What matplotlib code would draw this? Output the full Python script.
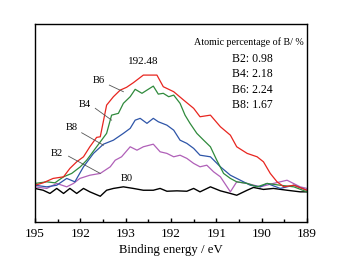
import matplotlib
matplotlib.use("Agg")
import matplotlib.pyplot as plt
from matplotlib.ticker import FixedLocator, MultipleLocator

plt.rcParams['font.family'] = ['Liberation Serif', 'DejaVu Serif']

# Binding energy (eV) and intensity (a.u.) per sample
b6_e = [195.00, 194.82, 194.60, 194.37, 194.23, 194.08, 193.93, 193.79, 193.64, 193.56, 193.42, 193.27,
        193.12, 192.98, 192.83, 192.61, 192.31, 192.17, 191.94, 191.72, 191.50, 191.36, 191.13, 190.91,
        190.69, 190.55, 190.32, 190.10, 189.96, 189.81, 189.66, 189.51, 189.29, 189.00]
b6_i = [18.3, 19.5, 21.7, 22.5, 26.7, 30.0, 32.5, 37.5, 42.2, 42.5, 58.3, 62.5,
        65.8, 67.2, 69.5, 73.3, 73.3, 67.5, 65.0, 60.8, 56.7, 52.5, 53.3, 47.5,
        43.3, 37.5, 34.2, 32.5, 30.0, 24.2, 20.0, 17.5, 18.3, 15.8]

b4_e = [195.00, 194.74, 194.56, 194.37, 194.19, 194.00, 193.86, 193.64, 193.42, 193.31, 193.16, 193.05,
        192.90, 192.79, 192.64, 192.53, 192.39, 192.28, 192.17, 192.05, 191.94, 191.80, 191.69, 191.58,
        191.43, 191.28, 191.13, 190.99, 190.84, 190.69, 190.55, 190.32, 190.10, 189.88, 189.59, 189.29, 189.00]
b4_i = [19.2, 20.0, 19.5, 22.5, 24.2, 27.5, 30.8, 37.5, 44.2, 53.3, 54.2, 59.2,
        62.5, 66.2, 64.2, 65.8, 67.8, 63.8, 64.2, 62.5, 63.3, 59.2, 53.3, 49.2,
        44.2, 40.8, 37.5, 30.8, 24.2, 21.7, 20.0, 19.2, 17.5, 19.2, 18.3, 17.5, 15.0]

b8_e = [195.00, 194.74, 194.52, 194.30, 194.12, 193.93, 193.71, 193.49, 193.27, 193.05, 192.90, 192.79,
        192.68, 192.53, 192.39, 192.28, 192.09, 191.94, 191.80, 191.65, 191.50, 191.36, 191.13, 190.91,
        190.69, 190.47, 190.25, 190.03, 189.88, 189.59, 189.29, 189.00]
b8_i = [18.3, 17.5, 18.3, 21.7, 20.0, 27.5, 34.2, 38.8, 40.8, 44.2, 46.7, 50.8,
        51.7, 49.2, 51.7, 50.0, 48.3, 45.8, 40.8, 39.2, 36.7, 33.3, 32.5, 27.5,
        23.3, 20.8, 18.3, 17.5, 19.2, 16.7, 18.3, 15.8]

b2_e = [195.00, 194.74, 194.52, 194.30, 194.15, 194.01, 193.79, 193.56, 193.34, 193.23, 193.09, 192.90,
        192.75, 192.61, 192.39, 192.24, 192.09, 191.94, 191.80, 191.65, 191.50, 191.36, 191.21, 191.06,
        190.91, 190.69, 190.55, 190.32, 190.03, 189.74, 189.44, 189.15, 189.00]
b2_i = [17.5, 16.7, 19.2, 17.5, 19.2, 21.7, 23.3, 24.2, 27.5, 30.8, 32.5, 37.5,
        35.8, 37.5, 38.8, 35.0, 34.2, 32.5, 33.3, 31.7, 29.2, 27.5, 28.3, 25.0,
        22.5, 15.0, 20.0, 19.2, 17.5, 19.2, 20.8, 17.5, 16.7]

b0_e = [195.00, 194.82, 194.67, 194.52, 194.37, 194.23, 194.08, 193.93, 193.79, 193.56, 193.42, 193.27,
        193.05, 192.83, 192.61, 192.39, 192.24, 192.09, 191.87, 191.65, 191.50, 191.36, 191.13, 190.91,
        190.69, 190.55, 190.32, 190.18, 189.96, 189.74, 189.44, 189.15, 189.00]
b0_i = [16.7, 15.8, 14.2, 16.7, 14.2, 16.7, 14.2, 16.7, 15.0, 12.8, 15.8, 16.7,
        17.5, 16.7, 15.8, 15.8, 16.7, 15.3, 15.5, 15.3, 16.7, 15.0, 17.5, 15.5,
        14.2, 13.3, 15.8, 17.2, 16.2, 16.7, 15.8, 15.0, 15.0]

tick_pos = [195, 194, 193, 192, 191, 190, 189]
tick_labels = ["195", "192", "193", "192", "191", "190", "189"]
pct_lines = ["B2: 0.98", "B4: 2.18", "B6: 2.24", "B8: 1.67"]

fig = plt.figure(figsize=(3.43, 2.67), dpi=100)
ax = fig.add_axes([0.102, 0.169, 0.793, 0.741])

ax.plot(b0_e, b0_i, color='black', lw=1.0)
ax.plot(b2_e, b2_i, color='#b060b8', lw=0.9)
ax.plot(b8_e, b8_i, color='#2e55a8', lw=0.9)
ax.plot(b4_e, b4_i, color='#2f8a3c', lw=0.9)
ax.plot(b6_e, b6_i, color='#e8251f', lw=0.9)

ax.set_xlim(195, 189)
ax.set_ylim(0, 98.8)
ax.xaxis.set_major_locator(FixedLocator(tick_pos))
ax.set_xticklabels(tick_labels, fontsize=9.5)
ax.xaxis.set_minor_locator(MultipleLocator(0.5))
ax.tick_params(axis='x', which='major', direction='in', length=3, width=1, pad=4.5)
ax.tick_params(axis='x', which='minor', direction='in', length=2, width=1)
ax.set_yticks([])
for s in ax.spines.values():
    s.set_linewidth(1.0)
ax.set_xlabel("Binding energy / eV", fontsize=9.2, labelpad=2.5)

fs = 7.6
ax.text(192.61, 80.3, "192.48", fontsize=8, ha='center', va='center')
ax.text(192.98, 21.7, "B0", fontsize=fs, ha='center', va='center')

labels = [("B6", 193.60, 70.8, (193.36, 68.3), (193.05, 65.0)),
          ("B4", 193.90, 58.8, (193.67, 56.7), (193.31, 50.8)),
          ("B8", 194.19, 47.0, (193.97, 44.5), (193.49, 38.3)),
          ("B2", 194.52, 34.2, (194.26, 32.8), (193.56, 24.2))]
for name, tx, ty, p0, p1 in labels:
    ax.text(tx, ty, name, fontsize=fs, ha='center', va='center')
    ax.plot([p0[0], p1[0]], [p0[1], p1[1]], color='#555555', lw=0.6)

ax.text(0.785, 0.909, "Atomic percentage of B/ %", transform=ax.transAxes,
        fontsize=7.2, ha='center', va='center')
for k, t in enumerate(pct_lines):
    ax.text(0.80, 0.823 - k * 0.077, t, transform=ax.transAxes,
            fontsize=8.5, ha='center', va='center')

fig.savefig("out.png", dpi=100, facecolor='white')
